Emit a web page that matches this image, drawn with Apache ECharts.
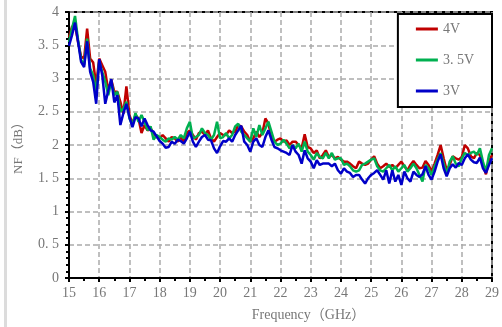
<!DOCTYPE html>
<html>
<head>
<meta charset="utf-8">
<script src="https://cdn.jsdelivr.net/npm/echarts@6/dist/echarts.min.js"></script>
<style>
  html, body { margin: 0; padding: 0; background: #fff; }
  #chart { width: 502px; height: 327px; }
</style>
</head>
<body>
<div id="chart"></div>
<script>
// sampling grid: 15 GHz to 29 GHz, one point per 0.1 GHz
const freqStart = 15;
const freqStep = 0.1;
const yTicks = [0, 0.5, 1, 1.5, 2, 2.5, 3, 3.5, 4];
const legendNames = ['4V', '3. 5V', '3V'];

const nf4V = [
  3.62, 3.78, 3.80, 3.55, 3.33, 3.30, 3.75, 3.30, 3.24, 2.90,
  3.30, 3.20, 3.10, 2.82, 2.98, 2.80, 2.80, 2.65, 2.47, 2.88,
  2.45, 2.32, 2.45, 2.40, 2.18, 2.30, 2.22, 2.25, 2.18, 2.12,
  2.10, 2.15, 2.10, 2.05, 2.12, 2.10, 2.05, 2.12, 2.05, 2.18,
  2.22, 2.15, 2.08, 2.18, 2.20, 2.15, 2.22, 2.10, 2.05, 2.12,
  2.18, 2.15, 2.15, 2.22, 2.18, 2.20, 2.30, 2.28, 2.20, 2.15,
  2.05, 2.10, 2.20, 2.12, 2.18, 2.40, 2.32, 2.12, 2.05, 2.08,
  2.10, 2.05, 2.07, 2.00, 2.05, 2.05, 2.00, 1.95, 2.16, 1.97,
  1.95, 1.88, 1.92, 1.80, 1.85, 1.92, 1.82, 1.85, 1.80, 1.82,
  1.78, 1.75, 1.75, 1.72, 1.68, 1.65, 1.75, 1.72, 1.70, 1.72,
  1.78, 1.83, 1.72, 1.65, 1.68, 1.72, 1.67, 1.70, 1.65, 1.70,
  1.75, 1.68, 1.62, 1.70, 1.76, 1.70, 1.65, 1.66, 1.76, 1.70,
  1.60, 1.72, 1.85, 2.00, 1.80, 1.62, 1.70, 1.83, 1.80, 1.78,
  1.82, 2.00, 1.95, 1.83, 1.80, 1.88, 1.85, 1.70, 1.56, 1.75,
  1.85
];

const nf35V = [
  3.55, 3.75, 3.94, 3.58, 3.28, 3.20, 3.60, 3.15, 3.05, 2.80,
  3.25, 3.10, 2.95, 2.75, 2.95, 2.75, 2.80, 2.50, 2.55, 2.65,
  2.40, 2.30, 2.48, 2.35, 2.45, 2.35, 2.22, 2.28, 2.08, 2.15,
  2.12, 2.08, 2.05, 2.10, 2.08, 2.12, 2.08, 2.15, 2.10, 2.25,
  2.35, 2.10, 2.12, 2.15, 2.25, 2.18, 2.15, 2.08, 2.15, 2.35,
  2.10, 2.12, 2.18, 2.10, 2.15, 2.28, 2.32, 2.20, 2.15, 2.10,
  2.05, 2.25, 2.12, 2.30, 2.15, 2.25, 2.35, 2.20, 2.05, 2.00,
  2.02, 2.08, 2.02, 1.95, 2.00, 1.95, 2.02, 1.90, 2.05, 1.90,
  1.85, 1.78, 1.88, 1.82, 1.80, 1.88, 1.80, 1.88, 1.78, 1.80,
  1.80, 1.70, 1.72, 1.68, 1.62, 1.60, 1.62, 1.70, 1.72, 1.75,
  1.78, 1.80, 1.68, 1.62, 1.60, 1.65, 1.70, 1.62, 1.68, 1.60,
  1.65, 1.70, 1.60, 1.65, 1.72, 1.65, 1.55, 1.45, 1.70, 1.65,
  1.55, 1.68, 1.78, 1.88, 1.72, 1.56, 1.75, 1.83, 1.72, 1.68,
  1.80, 1.88, 1.85, 1.88, 1.90, 1.85, 1.95, 1.75, 1.60, 1.85,
  1.95
];

const nf3V = [
  3.49, 3.65, 3.84, 3.55, 3.25, 3.17, 3.56, 3.10, 2.95, 2.62,
  3.29, 3.05, 2.62, 2.82, 2.99, 2.64, 2.75, 2.30, 2.48, 2.62,
  2.42, 2.27, 2.42, 2.40, 2.28, 2.40, 2.30, 2.22, 2.20, 2.13,
  2.06, 2.02, 1.96, 1.97, 2.05, 2.02, 2.08, 2.06, 2.02, 2.10,
  2.20, 2.05, 1.97, 2.05, 2.12, 2.15, 2.08, 2.07, 1.95, 1.88,
  1.98, 2.06, 2.05, 2.10, 2.05, 2.15, 2.22, 2.29, 2.05, 2.00,
  1.90, 2.05, 2.10, 2.00, 1.97, 2.12, 2.22, 2.08, 1.97, 1.95,
  1.92, 1.90, 1.88, 1.85, 2.00, 1.90, 1.85, 1.72, 1.92, 1.80,
  1.75, 1.65, 1.77, 1.70, 1.72, 1.72, 1.72, 1.68, 1.72, 1.62,
  1.57, 1.65, 1.60, 1.58, 1.52, 1.55, 1.55, 1.48, 1.42, 1.50,
  1.55, 1.58, 1.62, 1.55, 1.48, 1.62, 1.42, 1.62, 1.45, 1.55,
  1.40, 1.60, 1.50, 1.45, 1.60, 1.55, 1.52, 1.56, 1.68, 1.55,
  1.48, 1.60, 1.75, 1.86, 1.65, 1.53, 1.65, 1.71, 1.66, 1.73,
  1.70, 1.80, 1.86, 1.78, 1.74, 1.73, 1.81, 1.65, 1.58, 1.70,
  1.80
];

const colors = ['#c00000', '#00b050', '#0000c8'];
const labelFont = "'Liberation Serif', 'DejaVu Serif', 'Noto Sans CJK SC', serif";

function toPairs(values) {
  return values.map((v, i) => [+(freqStart + i * freqStep).toFixed(1), v]);
}

const chart = echarts.init(document.getElementById('chart'));

const option = {
  animation: false,
  backgroundColor: '#fff',
  color: colors,
  grid: {
    left: 69,
    top: 12,
    right: 8,
    bottom: 46,
    show: true,
    borderColor: '#000',
    borderWidth: 2,
  },
  graphic: [
    {
      type: 'rect',
      shape: { x: 4, y: 0, width: 3, height: 327 },
      style: { fill: '#dcdcdc' },
      silent: true,
    },
  ],
  legend: {
    data: legendNames,
    orient: 'vertical',
    right: 10,
    top: 14,
    padding: [8, 18, 9, 18],
    itemGap: 17,
    itemWidth: 22,
    itemHeight: 3,
    icon: 'rect',
    backgroundColor: '#fff',
    borderColor: '#000',
    borderWidth: 2,
    textStyle: { color: '#777', fontSize: 14, fontFamily: labelFont },
  },
  xAxis: {
    type: 'value',
    min: 15,
    max: 29,
    interval: 1,
    name: 'Frequency（GHz）',
    nameLocation: 'middle',
    nameGap: 30,
    nameTextStyle: {
      color: '#777',
      fontSize: 14,
      fontFamily: labelFont,
      padding: [0, 0, 0, 56],
    },
    axisLine: { show: true, lineStyle: { color: '#000', width: 2 } },
    axisTick: { show: true, length: 4, lineStyle: { color: '#000', width: 2 } },
    minorTick: { show: true, splitNumber: 2, length: 3, lineStyle: { color: '#000', width: 2 } },
    axisLabel: { color: '#777', fontSize: 14, margin: 8, fontFamily: labelFont },
    splitLine: { show: true, lineStyle: { color: '#aaa', width: 1.5, type: [5, 3] } },
  },
  yAxis: {
    type: 'value',
    min: yTicks[0],
    max: yTicks[yTicks.length - 1],
    interval: yTicks[1] - yTicks[0],
    name: 'NF（dB）',
    nameLocation: 'middle',
    nameGap: 44,
    nameTextStyle: { color: '#777', fontSize: 13, fontFamily: labelFont },
    axisLine: { show: true, lineStyle: { color: '#000', width: 2 } },
    axisTick: { show: true, length: 4, lineStyle: { color: '#000', width: 2 } },
    minorTick: { show: true, splitNumber: 5, length: 3, lineStyle: { color: '#000', width: 2 } },
    axisLabel: {
      color: '#777',
      fontSize: 14,
      margin: 10,
      fontFamily: labelFont,
      formatter: (v) => String(v).replace('.', '. '),
    },
    splitLine: { show: true, lineStyle: { color: '#aaa', width: 1.5, type: [5, 3] } },
  },
  series: [
    { name: legendNames[0], type: 'line', data: toPairs(nf4V) },
    { name: legendNames[1], type: 'line', data: toPairs(nf35V) },
    { name: legendNames[2], type: 'line', data: toPairs(nf3V) },
  ].map((s, i) => ({
    ...s,
    showSymbol: false,
    symbol: 'none',
    lineStyle: { color: colors[i], width: 2.5 },
    z: 2 + i,
  })),
};

chart.setOption(option);
</script>
</body>
</html>
